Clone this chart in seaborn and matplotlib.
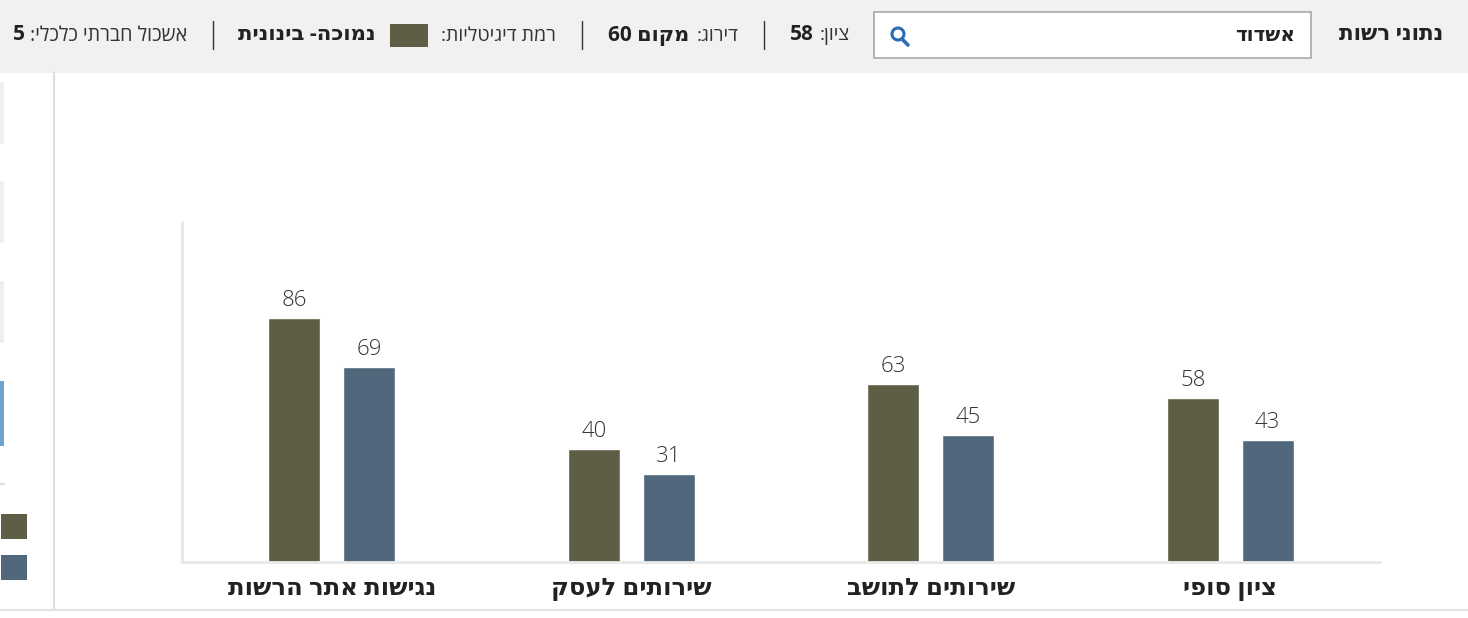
import matplotlib
matplotlib.use("Agg")
import matplotlib.pyplot as plt
import seaborn as sns
import pandas as pd
from matplotlib.patches import Rectangle, Circle
from matplotlib.lines import Line2D
from matplotlib.transforms import Affine2D

# --- data (left to right as shown) ---
categories = ["נגישות אתר הרשות", "שירותים לעסק", "שירותים לתושב", "ציון סופי"]
city_scores = [86, 40, 63, 58]
avg_scores = [69, 31, 45, 43]
series_names = ["אשדוד", "ממוצע"]

OLIVE = "#5e5e46"
SLATE = "#50677c"
W, H = 1468, 618


def rtl(s):
    # matplotlib has no bidi support, so flip pure Hebrew strings by hand
    return s[::-1]


df = pd.DataFrame({
    "category": [rtl(c) for c in categories] * 2,
    "score": city_scores + avg_scores,
    "series": [series_names[0]] * len(categories) + [series_names[1]] * len(categories),
})

sns.set_theme(style="white")
plt.rcParams["font.family"] = ["Open Sans", "DejaVu Sans"]

fig = plt.figure(figsize=(W / 100, H / 100), dpi=100)
fig.patch.set_facecolor("white")

# pixel coords, origin at top-left
T = Affine2D().scale(1, -1).translate(0, H)


def rect(x0, y0, x1, y1, **kw):
    fig.add_artist(Rectangle((x0, y0), x1 - x0, y1 - y0, transform=T, **kw))


def line(x0, y0, x1, y1, **kw):
    fig.add_artist(Line2D([x0, x1], [y0, y1], transform=T, **kw))


def txt(x, y, s, ha="right", weight="normal", size=14, color="#333333"):
    fig.text(x, y, s, transform=T, ha=ha, va="center", fontweight=weight,
             fontsize=size, color=color)


# header band
rect(0, 0, W, 73, facecolor="#f0f1f0", edgecolor="none")
# search box
rect(874, 12, 1311, 58, facecolor="white", edgecolor="#a8a8a8", linewidth=1.2)
fig.add_artist(Circle((898, 34), 6, transform=T, fill=False, edgecolor="#2a6db5", linewidth=2.2))
line(902, 39, 908, 45, color="#2a6db5", linewidth=2.6, solid_capstyle="round")
txt(1295, 36, rtl("אשדוד"), weight="bold", size=14.3, color="#222222")
txt(1443, 35, rtl("נתוני רשות"), weight="bold", size=15.5, color="#222222")

# header facts
txt(850, 36, rtl("ציון:"), size=14)
txt(814, 35, "58", weight="bold", size=15, color="#222222")
line(764, 21, 764, 49, color="#333333", linewidth=1)
txt(738, 36, rtl("דירוג:"), size=14)
txt(689, 35, "60 " + rtl("מקום"), weight="bold", size=15, color="#222222")
line(582, 21, 582, 49, color="#333333", linewidth=1)
txt(556, 36, rtl("רמת דיגיטליות:"), size=14)
rect(390, 24, 428, 47, facecolor=OLIVE, edgecolor="none")
txt(376, 35, rtl("נמוכה- בינונית"), weight="bold", size=15.3, color="#222222")
line(213, 21, 213, 49, color="#333333", linewidth=1)
txt(187, 36, rtl("אשכול חברתי כלכלי:"), size=14.2)
txt(25, 35, "5", weight="bold", size=15, color="#222222")

# left side panel
line(54, 73, 54, 610, color="#dcdce2", linewidth=1.5)
line(0, 610, W, 610, color="#e2e2ea", linewidth=1.5)
for y0, y1 in [(82, 144), (181, 243), (281, 343)]:
    rect(0, y0, 4, y1, facecolor="#eef0ee", edgecolor="none")
rect(0, 381, 4, 446, facecolor="#6fa3cf", edgecolor="none")
line(0, 484, 4, 484, color="#dddddd", linewidth=1.5)
rect(1, 514, 27, 539, facecolor=OLIVE, edgecolor="none")
rect(1, 555, 27, 580, facecolor=SLATE, edgecolor="none")

# --- bar chart ---
ax = fig.add_axes([182 / W, 1 - 562 / H, (1380 - 182) / W, (562 - 222) / H])
sns.barplot(data=df, x="category", y="score", hue="series",
            order=[rtl(c) for c in categories], hue_order=series_names,
            palette=[OLIVE, SLATE], width=0.5, gap=0.31, legend=False,
            errorbar=None, saturation=1, ax=ax)

for cont in ax.containers:
    ax.bar_label(cont, fmt="%d", padding=5, fontsize=16, color="#333333",
                 fontweight="light")

ax.set_xlim(-0.5, 3.5)
ax.set_ylim(0, 120)
ax.set_yticks([])
ax.set_xlabel("")
ax.set_ylabel("")
ax.tick_params(axis="x", length=0, pad=11)
for lab in ax.get_xticklabels():
    lab.set_fontweight("bold")
    lab.set_fontsize(17.5)
    lab.set_color("#222222")
for side in ["top", "right"]:
    ax.spines[side].set_visible(False)
for side in ["left", "bottom"]:
    ax.spines[side].set_color("#e8e8e8")
    ax.spines[side].set_linewidth(2)
ax.set_facecolor("white")

fig.savefig("out.png", dpi=100)
plt.close(fig)
